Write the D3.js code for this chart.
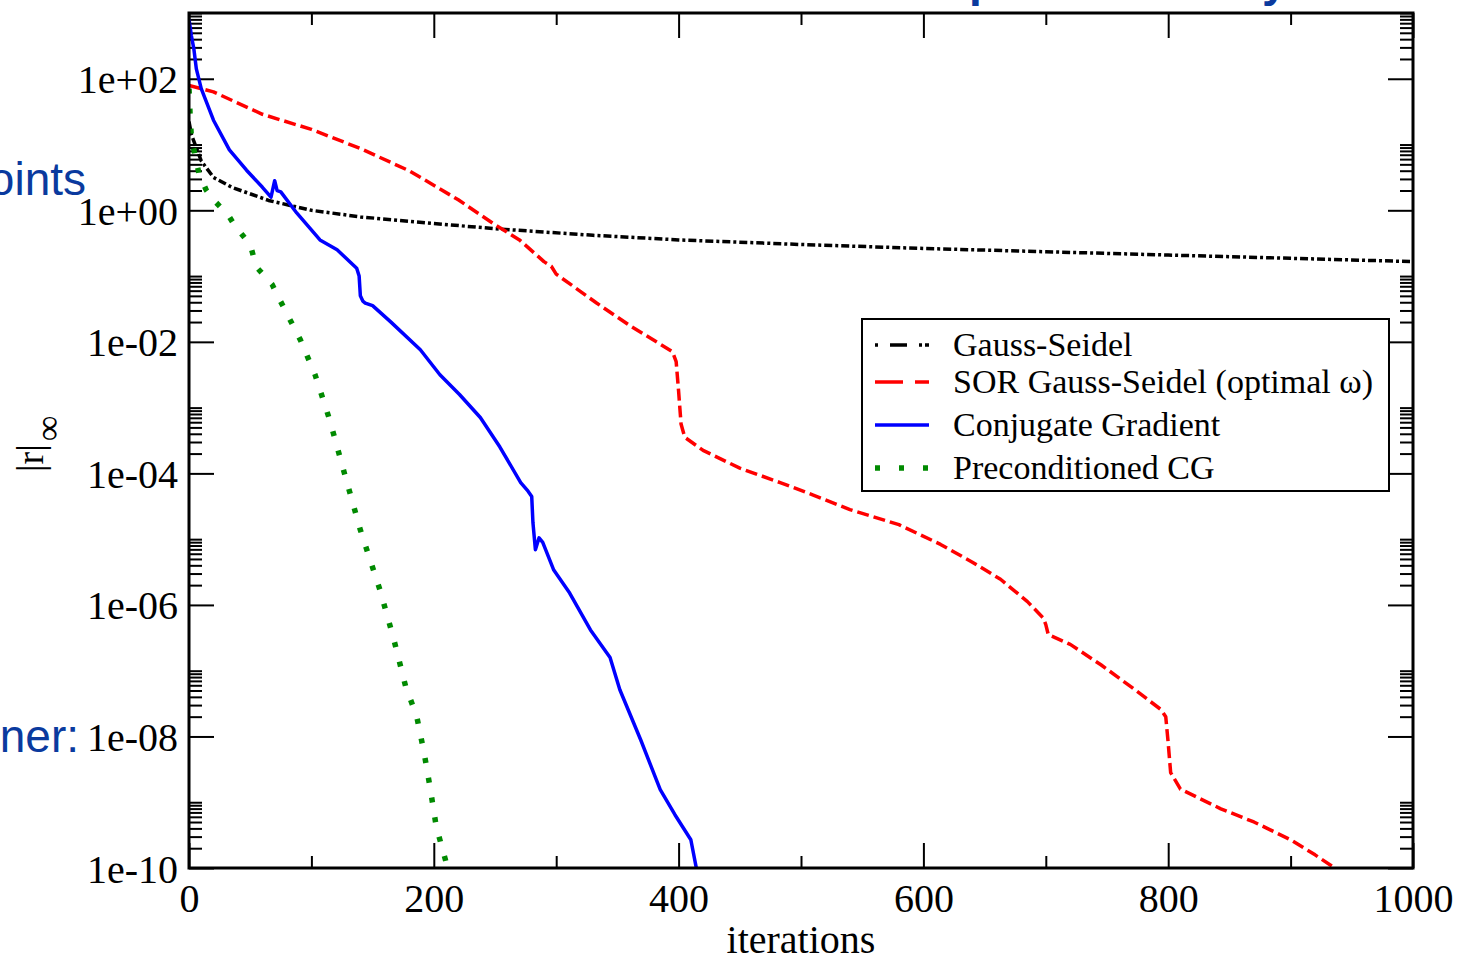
<!DOCTYPE html>
<html>
<head>
<meta charset="utf-8">
<script src="https://cdn.jsdelivr.net/npm/d3@7"></script>
<style>
  body { margin: 0; background: #fff; }
  svg { display: block; }
  .serif { font-family: "Liberation Serif", "Times New Roman", serif; }
</style>
</head>
<body>
<svg id="chart" width="1464" height="959"></svg>
<script>
// values, residuals stored as log10
const xTicks = [0, 200, 400, 600, 800, 1000];
const yTickExps = [-10, -8, -6, -4, -2, 0, 2];
const yTickLabels = ["1e-10", "1e-08", "1e-06", "1e-04", "1e-02", "1e+00", "1e+02"];

const gsIter = [0, 2, 5, 10, 20, 35, 65, 100, 140, 200, 250, 330, 400, 500, 600, 700, 800, 900, 1000];
const gsLog = [1.35, 1.15, 1.0, 0.75, 0.5, 0.35, 0.15, 0.0, -0.1, -0.2, -0.28, -0.38, -0.45, -0.52, -0.58, -0.63, -0.68, -0.73, -0.78];

const sorIter = [0, 20, 60, 100, 140, 180, 220, 250, 270, 290, 296, 300, 333, 360, 395, 398, 400, 402, 405, 420, 450, 483, 510, 540, 580, 614, 640, 663, 685, 698, 700, 702, 720, 745, 770, 794, 798, 800, 802, 810, 843, 870, 900, 920, 940];
const sorLog = [1.9, 1.8, 1.46, 1.23, 0.94, 0.6, 0.16, -0.22, -0.45, -0.78, -0.85, -0.97, -1.41, -1.75, -2.15, -2.3, -2.75, -3.25, -3.45, -3.65, -3.92, -4.14, -4.33, -4.55, -4.78, -5.08, -5.35, -5.61, -5.95, -6.2, -6.3, -6.45, -6.6, -6.91, -7.25, -7.59, -7.7, -8.1, -8.55, -8.8, -9.1, -9.3, -9.57, -9.8, -10.05];

const cgIter = [0, 2, 4, 6, 10, 20, 33, 47, 60, 67, 70, 72, 75, 88, 107, 121, 137, 139, 140, 142, 144, 150, 165, 189, 205, 221, 238, 254, 271, 277, 280, 281, 283, 286, 289, 298, 311, 328, 344, 352, 369, 385, 397, 410, 415];
const cgLog = [2.9, 2.65, 2.45, 2.15, 1.85, 1.37, 0.92, 0.61, 0.35, 0.2, 0.45, 0.3, 0.28, -0.04, -0.45, -0.6, -0.88, -1.0, -1.3, -1.38, -1.41, -1.45, -1.7, -2.12, -2.5, -2.8, -3.15, -3.6, -4.14, -4.27, -4.35, -4.75, -5.16, -4.98, -5.05, -5.47, -5.82, -6.38, -6.8, -7.29, -8.05, -8.81, -9.19, -9.57, -10.05];

const pcgIter = [0, 1, 2, 8, 14, 20, 32, 38, 50, 55, 68, 73, 91, 103, 115, 127, 140, 156, 167, 177, 186, 192, 197, 202, 210, 213];
const pcgLog = [1.85, 1.4, 1.1, 0.57, 0.31, 0.16, -0.07, -0.25, -0.52, -0.86, -1.13, -1.32, -1.97, -2.5, -3.19, -4.0, -4.86, -5.77, -6.5, -7.24, -7.69, -8.24, -8.78, -9.37, -9.91, -10.15];

const seriesNames = ["Gauss-Seidel", "SOR Gauss-Seidel (optimal \u03c9)", "Conjugate Gradient", "Preconditioned CG"];

const svg = d3.select("#chart");
const margin = { left: 189, top: 13, right: 51, bottom: 91 };
const width = 1464 - margin.left - margin.right;
const height = 959 - margin.top - margin.bottom;

const x = d3.scaleLinear().domain([0, 1000]).range([0, width]);
const y = d3.scaleLog().domain([1e-10, 1e3]).range([height, 0]);

// bits of the slide behind the chart (cut off in the original too)
const blue = "#0a3a9e";
svg.append("text").attr("x", 86).attr("y", 195).attr("text-anchor", "end")
  .attr("font-family", "Liberation Sans, Arial, sans-serif").attr("font-size", 46).attr("fill", blue).text("oints");
svg.append("text").attr("x", 79).attr("y", 752).attr("text-anchor", "end")
  .attr("font-family", "Liberation Sans, Arial, sans-serif").attr("font-size", 46).attr("fill", blue).text("ner:");
svg.append("text").attr("x", 969).attr("y", -4)
  .attr("font-family", "Liberation Sans, Arial, sans-serif").attr("font-weight", "bold").attr("font-size", 46).attr("fill", blue).text("p");
svg.append("text").attr("x", 1262).attr("y", -4)
  .attr("font-family", "Liberation Sans, Arial, sans-serif").attr("font-weight", "bold").attr("font-size", 46).attr("fill", blue).text("y");

const g = svg.append("g").attr("transform", `translate(${margin.left},${margin.top})`);

g.append("clipPath").attr("id", "plotclip")
  .append("rect").attr("width", width).attr("height", height);

// minor tick positions for the log axis: m * 10^e for even decades
const yMinor = [];
yTickExps.forEach(e => { for (let m = 2; m <= 10; m++) { const v = m * Math.pow(10, e); if (v <= 1e3) yMinor.push(v); } });
const xMinor = [100, 300, 500, 700, 900];

function styleAxis(sel) {
  sel.select(".domain").remove();
  sel.selectAll(".tick line").attr("stroke", "#000").attr("stroke-width", 2);
  sel.selectAll("text").attr("class", "serif").attr("font-size", 40).attr("fill", "#000");
}

// left / bottom with labels
g.append("g")
  .call(d3.axisLeft(y).tickValues(yTickExps.map(e => Math.pow(10, e))).tickSize(-25).tickPadding(11)
    .tickFormat((d, i) => yTickLabels[i]))
  .call(styleAxis)
  .selectAll("text").attr("dy", "0.35em");
g.append("g").call(d3.axisLeft(y).tickValues(yMinor).tickSize(-13).tickFormat("")).call(styleAxis);

g.append("g").attr("transform", `translate(0,${height})`)
  .call(d3.axisBottom(x).tickValues(xTicks).tickSize(-25).tickPadding(16).tickFormat(d3.format("d")))
  .call(styleAxis);
g.append("g").attr("transform", `translate(0,${height})`)
  .call(d3.axisBottom(x).tickValues(xMinor).tickSize(-12).tickFormat("")).call(styleAxis);

// mirrored top / right ticks
g.append("g").call(d3.axisTop(x).tickValues(xTicks).tickSize(-25).tickFormat("")).call(styleAxis);
g.append("g").call(d3.axisTop(x).tickValues(xMinor).tickSize(-12).tickFormat("")).call(styleAxis);
g.append("g").attr("transform", `translate(${width},0)`)
  .call(d3.axisRight(y).tickValues(yTickExps.map(e => Math.pow(10, e))).tickSize(-25).tickFormat("")).call(styleAxis);
g.append("g").attr("transform", `translate(${width},0)`)
  .call(d3.axisRight(y).tickValues(yMinor).tickSize(-13).tickFormat("")).call(styleAxis);

// series
const series = [
  { iter: gsIter, log: gsLog, color: "#000", dash: "8 3 3 3", w: 3.5 },
  { iter: sorIter, log: sorLog, color: "#ff0000", dash: "12 5", w: 3.5 },
  { iter: cgIter, log: cgLog, color: "#0000ff", dash: null, w: 3.5 },
  { iter: pcgIter, log: pcgLog, color: "#008a00", dash: "5 15", w: 5.5 }
];

const line = d3.line().x(d => x(d[0])).y(d => y(d[1]));

const lines = g.append("g").attr("clip-path", "url(#plotclip)");
series.forEach(s => {
  const pts = s.iter.map((it, i) => [it, Math.pow(10, s.log[i])]);
  lines.append("path")
    .datum(pts)
    .attr("d", line)
    .attr("fill", "none")
    .attr("stroke", s.color)
    .attr("stroke-width", s.w)
    .attr("stroke-dasharray", s.dash)
    .attr("stroke-linejoin", "round");
});

// frame
g.append("rect").attr("width", width).attr("height", height)
  .attr("fill", "none").attr("stroke", "#000").attr("stroke-width", 3);

// axis titles
svg.append("text").attr("class", "serif").attr("x", margin.left + width / 2).attr("y", 953)
  .attr("text-anchor", "middle").attr("font-size", 40).text("iterations");

const yl = svg.append("text").attr("class", "serif").attr("font-size", 38)
  .attr("transform", "translate(43,472) rotate(-90)");
yl.append("tspan").text("|r|");
yl.append("tspan").attr("dy", 17).attr("dx", 3).attr("font-size", 36).text("\u221e");

// legend
const legendSamples = ["3 12 17 12 3", "28 12", null, "5 19"];
const legendY = [345, 382, 425, 468];
const leg = svg.append("g");
leg.append("rect").attr("x", 862).attr("y", 319).attr("width", 527).attr("height", 172)
  .attr("fill", "#fff").attr("stroke", "#000").attr("stroke-width", 2);
series.forEach((s, i) => {
  leg.append("line")
    .attr("x1", 875).attr("x2", 929).attr("y1", legendY[i]).attr("y2", legendY[i])
    .attr("stroke", s.color).attr("stroke-width", s.w)
    .attr("stroke-dasharray", legendSamples[i]);
  leg.append("text").attr("class", "serif").attr("x", 953).attr("y", legendY[i]).attr("dy", "0.33em")
    .attr("font-size", 34).text(seriesNames[i]);
});
</script>
</body>
</html>
